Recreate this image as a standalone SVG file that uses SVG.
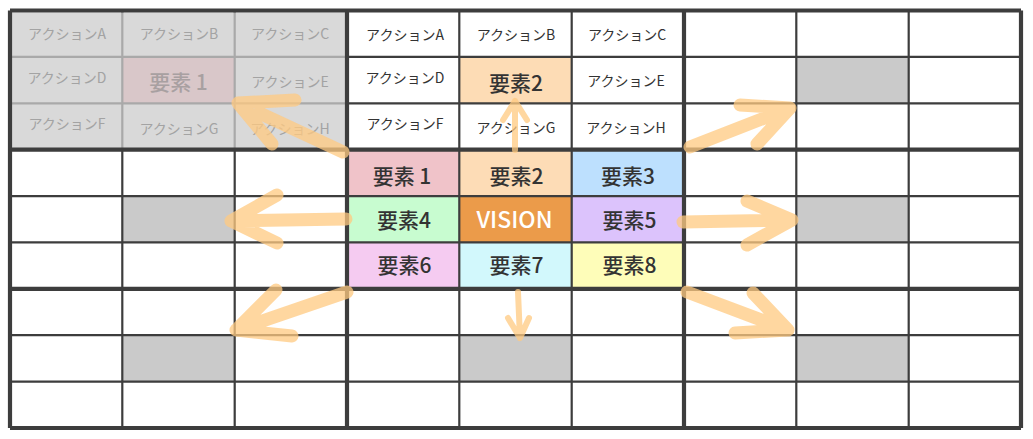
<svg xmlns="http://www.w3.org/2000/svg" width="1033" height="439" viewBox="0 0 1033 439">
<style>
.t{font-family:"Noto Sans CJK JP","Noto Sans",sans-serif;fill:#333;text-anchor:middle}
.act{font-size:14px}
.el{font-size:21px;font-weight:500}
.g{fill:#a3a3a3}
.thin{stroke:#3d3d3d;stroke-width:2.2;fill:none}
.thick{stroke:#3d3d3d;stroke-width:4.2;fill:none}
.gl{stroke:#a9a9a9;stroke-width:2.2;fill:none}
.arr{fill:none;stroke:#ffc980;stroke-opacity:0.75;stroke-linecap:round;stroke-linejoin:round;stroke-width:13}
.arr.s{stroke-width:6}
.gray{fill:#cacaca}
</style>
<rect x="0" y="0" width="1033" height="439" fill="#ffffff"/>

<g id="cells">
  <g id="top-e2"><rect x="459.3" y="56.9" width="112.4" height="46.4" fill="#fddcb5"/></g>
  <g id="c-e1"><rect x="347" y="149.7" width="112.3" height="46.4" fill="#f0c3c9"/></g>
  <g id="c-e2"><rect x="459.3" y="149.7" width="112.4" height="46.4" fill="#fddcb6"/></g>
  <g id="c-e3"><rect x="571.7" y="149.7" width="112.3" height="46.4" fill="#bde0fe"/></g>
  <g id="c-e4"><rect x="347" y="196.1" width="112.3" height="46.3" fill="#c8fcd0"/></g>
  <g id="c-vision"><rect x="459.3" y="196.1" width="112.4" height="46.3" fill="#eb9b4a"/></g>
  <g id="c-e5"><rect x="571.7" y="196.1" width="112.3" height="46.3" fill="#dcc3fc"/></g>
  <g id="c-e6"><rect x="347" y="242.4" width="112.3" height="46.4" fill="#f5cbf1"/></g>
  <g id="c-e7"><rect x="459.3" y="242.4" width="112.4" height="46.4" fill="#d2f8fc"/></g>
  <g id="c-e8"><rect x="571.7" y="242.4" width="112.3" height="46.4" fill="#fefdb9"/></g>
  <g id="tr-center"><rect class="gray" x="796.3" y="56.9" width="112.4" height="46.4"/></g>
  <g id="ml-center"><rect class="gray" x="122.3" y="196.1" width="112.4" height="46.3"/></g>
  <g id="mr-center"><rect class="gray" x="796.3" y="196.1" width="112.4" height="46.3"/></g>
  <g id="bl-center"><rect class="gray" x="122.3" y="335.2" width="112.4" height="46.4"/></g>
  <g id="bc-center"><rect class="gray" x="459.3" y="335.2" width="112.4" height="46.4"/></g>
  <g id="br-center"><rect class="gray" x="796.3" y="335.2" width="112.4" height="46.4"/></g>
</g>

<g id="grid-thin">
  <path class="thin" d="M122.3,10.5V428 M234.7,10.5V428 M459.3,10.5V428 M571.7,10.5V428 M796.3,10.5V428 M908.7,10.5V428
  M10,56.9H1021 M10,103.3H1021 M10,196.1H1021 M10,242.4H1021 M10,335.2H1021 M10,381.6H1021"/>
</g>

<g id="block-top-left">
  <rect x="11.5" y="12.5" width="334.5" height="135.5" fill="#d9d9d9"/>
  <rect x="122.3" y="56.9" width="112.4" height="46.4" fill="#d9c7c9"/>
  <path class="gl" d="M122.3,12.5V148 M234.7,12.5V148 M11.5,56.9H346 M11.5,103.3H346"/>
  <text class="t act g" x="67" y="39">アクションA</text>
  <text class="t act g" x="179" y="39">アクションB</text>
  <text class="t act g" x="290" y="39">アクションC</text>
  <text class="t act g" x="67" y="82.5">アクションD</text>
  <text class="t el" x="178.5" y="89.5" style="fill:#a8a0a1">要素 1</text>
  <text class="t act g" x="290" y="86.5">アクションE</text>
  <text class="t act g" x="67" y="128.5">アクションF</text>
  <text class="t act g" x="179" y="133.5">アクションG</text>
  <text class="t act g" x="290" y="133.5">アクションH</text>
</g>

<g id="grid-thick">
  <path class="thick" d="M10,10.5V428 M347,10.5V428 M684,10.5V428 M1021,10.5V428 M10,10.5H1021 M10,149.7H1021 M10,288.8H1021 M10,428H1021"/>
</g>

<g id="block-top-center">
  <text class="t act" x="405" y="40">アクションA</text>
  <text class="t act" x="516" y="40">アクションB</text>
  <text class="t act" x="627" y="40">アクションC</text>
  <text class="t act" x="405" y="83.3">アクションD</text>
  <text class="t el" x="516" y="90.6">要素2</text>
  <text class="t act" x="626" y="86.3">アクションE</text>
  <text class="t act" x="405" y="129.3">アクションF</text>
  <text class="t act" x="516" y="133.3">アクションG</text>
  <text class="t act" x="626" y="133.3">アクションH</text>
</g>

<g id="block-center">
  <text class="t el" x="402" y="183.6">要素 1</text>
  <text class="t el" x="516.5" y="183.6">要素2</text>
  <text class="t el" x="628" y="183.6">要素3</text>
  <text class="t el" x="404" y="227.6">要素4</text>
  <text class="t" x="514.5" y="227.7" style="font-size:23px;font-weight:500;fill:#ffffff">VISION</text>
  <text class="t el" x="629.5" y="227.6">要素5</text>
  <text class="t el" x="404.5" y="272.6">要素6</text>
  <text class="t el" x="516.5" y="272.6">要素7</text>
  <text class="t el" x="629.5" y="272.6">要素8</text>
</g>

<g id="connectors">
  <path class="arr" d="M343,152 L238,103 M295,100 L238,103 L272,144"/>
  <path class="arr s" d="M515,150 L515,101 M503,120 L515,101 L527,120"/>
  <path class="arr" d="M690,147 L790,108 M740,105 L790,108 L757,144"/>
  <path class="arr" d="M346,219 L231,221 M277,195 L231,221 L277,243"/>
  <path class="arr" d="M683,222 L792,220 M747,201 L792,220 L747,245"/>
  <path class="arr" d="M347,292 L236,330 M276,290 L236,330 L292,336"/>
  <path class="arr s" d="M518,292 L520,338 M508,318 L520,338 L529,318"/>
  <path class="arr" d="M687,292 L788,330 M753,293 L788,330 L735,333"/>
</g>
</svg>
